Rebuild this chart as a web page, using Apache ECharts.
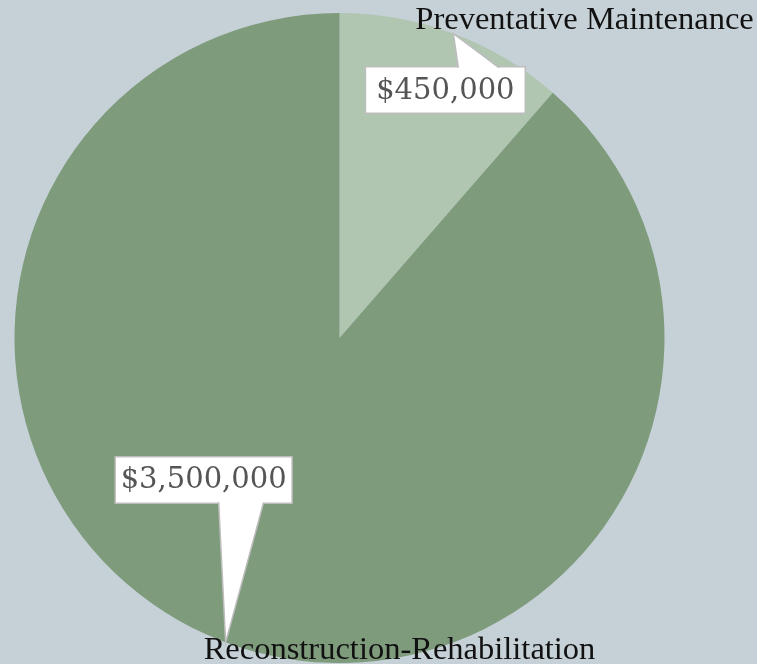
<!DOCTYPE html>
<html><head><meta charset="utf-8">
<script src="https://cdn.jsdelivr.net/npm/echarts@6/dist/echarts.min.js"></script>
<style>html,body{margin:0;padding:0;background:#c6d1d7}#c{width:757px;height:664px}</style>
</head><body><div id="c"></div>
<script>
// ---- data ----
const categories = ['Preventative Maintenance', 'Reconstruction-Rehabilitation'];
const values = [450000, 3500000];
const valueLabels = ['$450,000', '$3,500,000'];

// ---- style ----
const sliceColors = ['#b0c6b1', '#7e9b7c'];
const NAME_FONT = 'Liberation Serif';
const VALUE_FONT = 'DejaVu Serif';
const nameOffset = [[-38, -13], [-22, 8]];          // name text relative to slice mid-arc point
const boxAnchor = [[-8, 34, 'top'], [-22, -140, 'bottom']]; // value box anchor relative to mid-arc point
const pointerBase = [[13, 54], [15, 60]];           // pointer base x-range relative to box anchor

const chart = echarts.init(document.getElementById('c'));
const pieData = categories.map((c, i) => ({ name: c, value: values[i], itemStyle: { color: sliceColors[i] } }));

function buildOption(tips) {
  const opt = {
    backgroundColor: '#c6d1d7',
    animation: false,
    series: [
      {
        type: 'pie', center: [339.5, 338], radius: 325, startAngle: 90, clockwise: true,
        data: pieData, silent: true,
        label: { show: !!tips, position: 'outside', formatter: '{b}', fontFamily: NAME_FONT, fontSize: 32.5, color: '#111', overflow: 'none', width: 600 },
        labelLine: { show: false },
        z: 2
      },
      {
        type: 'pie', center: [339.5, 338], radius: 325, startAngle: 90, clockwise: true,
        data: categories.map((c, i) => ({ name: c, value: values[i], itemStyle: { color: 'rgba(0,0,0,0)' } })),
        silent: true,
        label: {
          show: !!tips, position: 'outside',
          formatter: p => valueLabels[p.dataIndex],
          fontFamily: VALUE_FONT, fontSize: 29, color: '#555', overflow: 'none',
          backgroundColor: '#fff', borderColor: '#bdbdbd', borderWidth: 1.5,
          padding: [9, 10, 7, 10]
        },
        labelLine: { show: false },
        z: 3
      }
    ]
  };
  if (tips) {
    opt.series[0].labelLayout = p => {
      const t = tips[p.dataIndex], o = nameOffset[p.dataIndex];
      return { x: t[0] + o[0], y: t[1] + o[1], align: 'left', verticalAlign: 'middle', hideOverlap: false, moveOverlap: null };
    };
    opt.series[1].labelLayout = p => {
      const t = tips[p.dataIndex], a = boxAnchor[p.dataIndex];
      return { x: t[0] + a[0], y: t[1] + a[1], align: 'center', verticalAlign: a[2], hideOverlap: false, moveOverlap: null };
    };
    const els = [];
    tips.forEach((t, i) => {
      const a = boxAnchor[i], b = pointerBase[i];
      const ax = t[0] + a[0];
      const ay = t[1] + a[1];
      const inset = a[2] === 'top' ? 1.5 : -1.5;
      const p0 = [ax + b[0], ay + inset], p1 = [ax + b[1], ay + inset];
      els.push({ type: 'polygon', z: 100, shape: { points: [p0, p1, t] }, style: { fill: '#fff', stroke: null } });
      els.push({ type: 'polyline', z: 101, shape: { points: [[p0[0], ay], t, [p1[0], ay]] }, style: { stroke: '#bdbdbd', lineWidth: 1.5, fill: null } });
    });
    opt.graphic = { elements: els };
  }
  return opt;
}

chart.setOption(buildOption(null));
let tips;
try {
  const data = chart.getModel().getSeriesByIndex(0).getData();
  tips = categories.map((c, i) => {
    const L = data.getItemLayout(i);
    const mid = (L.startAngle + L.endAngle) / 2;
    return [L.cx + L.r * Math.cos(mid), L.cy + L.r * Math.sin(mid)];
  });
} catch (e) {
  const total = values.reduce((s, v) => s + v, 0);
  let acc = 0;
  tips = values.map(v => {
    const mid = -Math.PI / 2 + 2 * Math.PI * (acc + v / 2) / total;
    acc += v;
    return [339.5 + 325 * Math.cos(mid), 338 + 325 * Math.sin(mid)];
  });
}
chart.setOption(buildOption(tips), true);
</script></body></html>
